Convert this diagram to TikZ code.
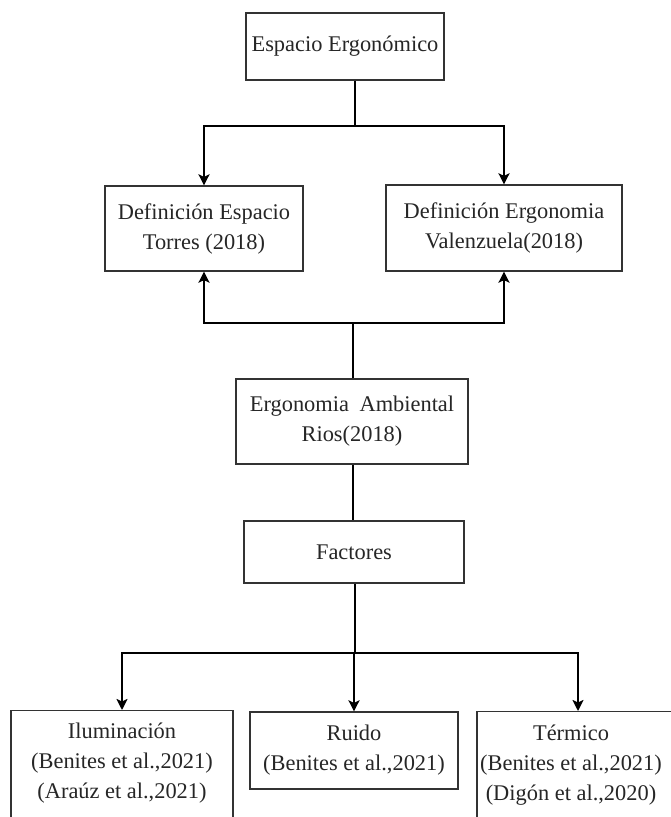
\documentclass[tikz,border=0pt]{standalone}
\usepackage{fontspec}
\setmainfont{Liberation Serif}
\usetikzlibrary{arrows.meta}
\begin{document}
\begin{tikzpicture}[x=1pt,y=-1pt,
  box/.style={draw=black!80, line width=1.3pt, inner sep=0pt, align=center,
    font=\fontsize{22.4}{30}\selectfont, text=black!85},
  txt/.style={inner sep=0pt, align=center, font=\fontsize{22.4}{30}\selectfont, text=black!85},
  conn/.style={line width=2.8pt, black},
  arr/.style={conn, -{Stealth[length=11pt,width=11pt,inset=2.5pt]}}]
\useasboundingbox (0,0) rectangle (671,817);
\clip (0,0) rectangle (671,817);
\fill[white] (0,0) rectangle (671,817);

\node[box, minimum width=198pt, minimum height=67pt] (top) at (345,46.5) {Espacio Ergonómico};
\node[box, minimum width=198pt, minimum height=85pt] (defE) at (204,228.5) {Definición Espacio\\Torres (2018)};
\node[box, minimum width=236pt, minimum height=86pt] (defG) at (504,228) {Definición Ergonomia\\Valenzuela(2018)};
\node[box, minimum width=232pt, minimum height=85pt] (amb) at (352,421.5) {Ergonomia\hspace{5pt} Ambiental\\Rios(2018)};
\node[box, minimum width=220pt, minimum height=62pt] (fac) at (354,552) {Factores};

\node[box, minimum width=222pt, minimum height=140pt, anchor=north] (iluB) at (122,710) {};
\node[txt] (iluT) at (122,763.5) {Iluminación\\(Benites et al.,2021)\\(Araúz et al.,2021)};
\node[box, minimum width=208pt, minimum height=77pt] (ruB) at (354,750.5) {Ruido\\(Benites et al.,2021)};
\node[box, minimum width=202pt, minimum height=140pt, anchor=north] (terB) at (578,711) {};
\node[txt] (terT) at (571,765) {Térmico\\(Benites et al.,2021)\\(Digón et al.,2020)};

\coordinate (j1) at (355,126);
\coordinate (j2) at (353,323);
\coordinate (j3) at (355,653);

\draw[conn] (j1 |- top.south) -- (j1);
\draw[arr] (j1) -| (defE.north);
\draw[arr] (j1) -| (defG.north);

\draw[conn] (amb.north -| j2) -- (j2);
\draw[arr] (j2) -| (defE.south);
\draw[arr] (j2) -| (defG.south);

\draw[conn] (amb.south -| j2) -- (fac.north -| j2);
\draw[conn] (fac.south -| j3) -- (j3);
\draw[arr] (j3) -| (iluB.north);
\draw[arr] (j3) -| (ruB.north);
\draw[arr] (j3) -| (terB.north);
\end{tikzpicture}
\end{document}
